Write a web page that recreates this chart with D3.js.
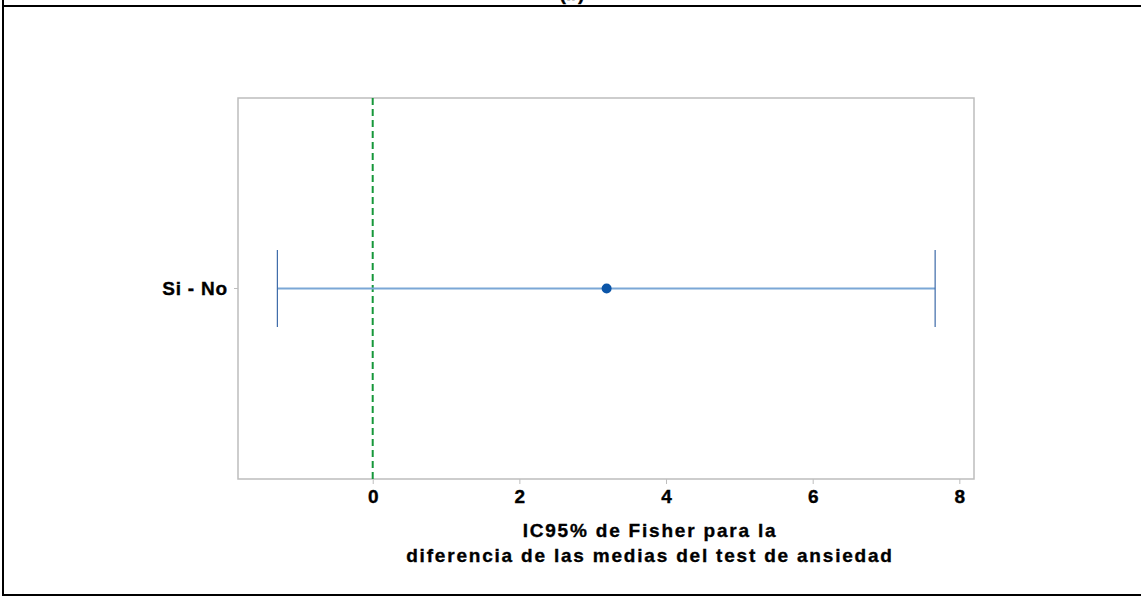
<!DOCTYPE html>
<html>
<head>
<meta charset="utf-8">
<script src="https://cdn.jsdelivr.net/npm/d3@7"></script>
<style>
  body { margin: 0; background: #fff; }
  svg text { font-family: "Liberation Sans", Arial, sans-serif; font-weight: bold; fill: #000; stroke: #000; stroke-width: 0.35px; }
</style>
</head>
<body>
<script>
// data
var categories = ["Si - No"];
var estimates = [3.19];
var lowerCI = [-1.30];
var upperCI = [7.67];
var xTicks = [0, 2, 4, 6, 8];
var refValue = [0];
var axisTitle = ["IC95% de Fisher para la", "diferencia de las medias del test de ansiedad"];
var panelLabel = "(b)";

var width = 1141,
    height = 596;

var svg = d3.select("body").append("svg")
    .attr("width", width)
    .attr("height", height);

// plot frame
var plotLeft = 238, plotRight = 974, plotTop = 98, plotBottom = 479;

var x = d3.scaleLinear()
    .domain([-1.837, 8.2])
    .range([plotLeft, plotRight]);

var y = d3.scaleBand()
    .domain(categories)
    .range([plotTop, plotBottom]);

var rows = categories.map(function (c, i) {
    return { cat: c, est: estimates[i], lo: lowerCI[i], hi: upperCI[i] };
});

// outer border + clipped panel label (cut off at the top in the original too)
svg.append("text")
    .attr("x", 572).attr("y", 0)
    .attr("text-anchor", "middle")
    .style("font-size", "20px")
    .text(panelLabel);

svg.append("line").attr("x1", 3).attr("x2", 3).attr("y1", 0).attr("y2", height)
    .attr("stroke", "#000").attr("stroke-width", 2);
svg.append("line").attr("x1", 2).attr("x2", width).attr("y1", 6).attr("y2", 6)
    .attr("stroke", "#000").attr("stroke-width", 2);
svg.append("line").attr("x1", 2).attr("x2", width).attr("y1", 595).attr("y2", 595)
    .attr("stroke", "#000").attr("stroke-width", 2);

// plot box
svg.append("rect")
    .attr("x", plotLeft).attr("y", plotTop)
    .attr("width", plotRight - plotLeft).attr("height", plotBottom - plotTop)
    .attr("fill", "none")
    .attr("stroke", "#bdbdbd")
    .attr("stroke-width", 1.5);

// x axis
var xAxis = svg.append("g")
    .attr("transform", "translate(0," + plotBottom + ")")
    .call(d3.axisBottom(x).tickValues(xTicks).tickSize(5).tickPadding(6).tickFormat(d3.format("d")));
xAxis.select(".domain").remove();
xAxis.selectAll(".tick line").attr("stroke", "#bdbdbd");
xAxis.selectAll(".tick text")
    .style("font-size", "19px")
    .style("font-family", "'Liberation Sans', Arial, sans-serif")
    .style("font-weight", "bold")
    .attr("fill", "#000");

// y axis
var yAxis = svg.append("g")
    .attr("transform", "translate(" + plotLeft + ",0)")
    .call(d3.axisLeft(y).tickSize(4).tickPadding(6));
yAxis.select(".domain").remove();
yAxis.selectAll(".tick line").attr("stroke", "#bdbdbd");
yAxis.selectAll(".tick text")
    .style("font-size", "19px")
    .style("font-family", "'Liberation Sans', Arial, sans-serif")
    .style("font-weight", "bold")
    .style("letter-spacing", "0.8px")
    .attr("fill", "#000");

// reference line at zero
svg.selectAll(".ref")
    .data(refValue)
    .enter().append("line")
    .attr("class", "ref")
    .attr("x1", d => x(d)).attr("x2", d => x(d))
    .attr("y1", plotTop).attr("y2", plotBottom)
    .attr("stroke", "#16973a")
    .attr("stroke-width", 2)
    .attr("stroke-dasharray", "7,4");

// intervals
var g = svg.selectAll(".ci")
    .data(rows)
    .enter().append("g")
    .attr("class", "ci");

g.append("line")
    .attr("x1", d => x(d.lo)).attr("x2", d => x(d.hi))
    .attr("y1", d => y(d.cat) + y.bandwidth() / 2)
    .attr("y2", d => y(d.cat) + y.bandwidth() / 2)
    .attr("stroke", "#7ba7d6")
    .attr("stroke-width", 1.8);

["lo", "hi"].forEach(function (k) {
    g.append("line")
        .attr("x1", d => x(d[k])).attr("x2", d => x(d[k]))
        .attr("y1", d => y(d.cat) + y.bandwidth() / 2 - 38.5)
        .attr("y2", d => y(d.cat) + y.bandwidth() / 2 + 38.5)
        .attr("stroke", "#3d6aa8")
        .attr("stroke-width", 1.2);
});

g.append("circle")
    .attr("cx", d => x(d.est))
    .attr("cy", d => y(d.cat) + y.bandwidth() / 2)
    .attr("r", 5)
    .attr("fill", "#0b55a8");

// axis title
svg.selectAll(".xtitle")
    .data(axisTitle)
    .enter().append("text")
    .attr("class", "xtitle")
    .attr("x", 650)
    .attr("y", (d, i) => 537 + i * 25)
    .attr("text-anchor", "middle")
    .style("font-size", "19px")
    .style("letter-spacing", "1.8px")
    .text(d => d);
</script>
</body>
</html>
